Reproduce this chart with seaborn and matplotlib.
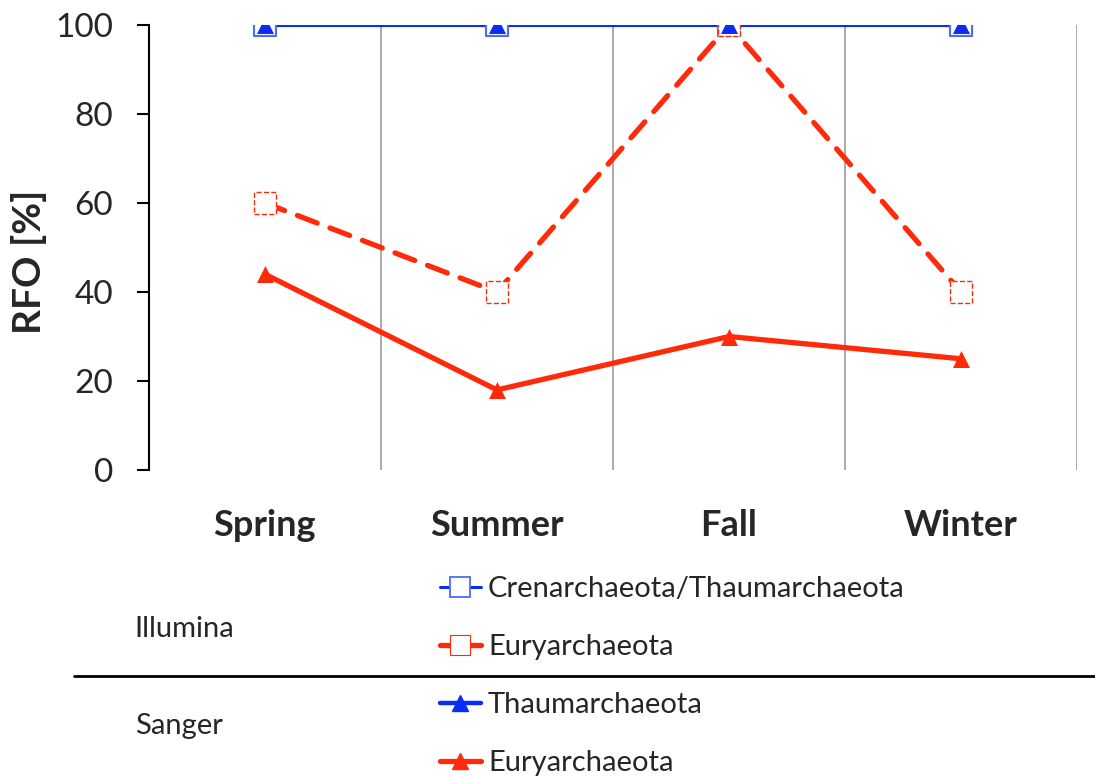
import numpy as np
import pandas as pd
import matplotlib
matplotlib.use("Agg")
import matplotlib.pyplot as plt
from matplotlib.lines import Line2D
import seaborn as sns


# ===============================
# DATA
# ===============================

seasons = ["Spring", "Summer", "Fall", "Winter"]

illumina_creno = [100, 100, 100, 100]
illumina_eury = [60, 40, 100, 40]
sanger_thaum = [100, 100, 100, 100]
sanger_eury = [44, 18, 30, 25]

yticks = [0, 20, 40, 60, 80, 100]

blue = "#0a2cf5"
light_blue = "#4a6cf8"
red = "#ff2a0a"


# ===============================
# FIGURE
# ===============================

sns.set_theme(style="white")
plt.rcParams['font.family'] = ['Lato', 'DejaVu Sans']

fig = plt.figure(figsize=(10.95, 7.76), dpi=100)
ax = fig.add_axes([0.136, 0.3943, 0.8476, 0.5735])

x = np.arange(len(seasons))

# lines
sns.lineplot(x=x, y=illumina_creno, ax=ax, color=blue, lw=2.2, zorder=2)
sns.lineplot(x=x, y=illumina_eury, ax=ax, color=red, lw=3.8, zorder=3,
             dashes=False, linestyle=(0, (4, 2.6)), dash_capstyle="round")
sns.lineplot(x=x, y=sanger_thaum, ax=ax, color=blue, lw=2.2, zorder=2)
sns.lineplot(x=x, y=sanger_eury, ax=ax, color=red, lw=3.8, zorder=3)

# markers
sns.scatterplot(x=x, y=illumina_creno, ax=ax, marker="s", s=250,
                facecolor="white", edgecolor=light_blue, linewidth=1.5, zorder=4)
sns.scatterplot(x=x, y=illumina_eury, ax=ax, marker="s", s=250,
                facecolor="white", edgecolor=red, linewidth=1.0,
                linestyle="--", zorder=4)
sns.scatterplot(x=x, y=sanger_thaum, ax=ax, marker="^", s=150,
                color=blue, edgecolor=blue, linewidth=0, zorder=5)
sns.scatterplot(x=x, y=sanger_eury, ax=ax, marker="^", s=150,
                color=red, edgecolor=red, linewidth=0, zorder=5)

ax.set_xlim(-0.5, 3.5)
ax.set_ylim(0, 100)
ax.set_yticks(yticks)
ax.set_xticks(x)
ax.set_xticklabels(seasons, fontsize=26, fontweight="bold")
ax.set_xticks(x + 0.5, minor=True)
ax.grid(False)
ax.grid(axis="x", which="minor", color="#aaaaaa", lw=1.4)
ax.tick_params(axis="y", which="major", left=True, length=9, width=1.5,
               labelsize=24, pad=17, color="black")
ax.tick_params(axis="x", which="both", bottom=False, pad=22)

for side in ["top", "right", "bottom"]:
    ax.spines[side].set_visible(False)
ax.spines["left"].set_color("black")
ax.spines["left"].set_linewidth(1.5)

ax.set_ylabel("RFO [%]", fontsize=28, fontweight="bold")
ax.yaxis.set_label_coords(-0.11, 0.467)


# ===============================
# LEGEND TABLE
# ===============================

handles = [
    Line2D([0], [0], color=blue, lw=2.2, marker="s", markersize=14,
           markerfacecolor="white", markeredgecolor=light_blue, markeredgewidth=1.3),
    Line2D([0], [0], color=red, lw=3.8, marker="s", markersize=14,
           markerfacecolor="white", markeredgecolor=red, markeredgewidth=0.8),
    Line2D([0], [0], color=blue, lw=3.2, marker="^", markersize=12,
           markerfacecolor=blue, markeredgecolor=blue),
    Line2D([0], [0], color=red, lw=3.8, marker="^", markersize=12,
           markerfacecolor=red, markeredgecolor=red),
]
labels = ["Crenarchaeota/Thaumarchaeota", "Euryarchaeota",
          "Thaumarchaeota", "Euryarchaeota"]

ax.legend(handles, labels, loc="upper left",
          bbox_to_anchor=(0.391, 0.273), bbox_transform=fig.transFigure,
          frameon=False, fontsize=21, handlelength=1.4, handletextpad=0.25,
          labelspacing=1.1, borderaxespad=0)

fig.text(0.123, 0.19, "Illumina", fontsize=21, va="center", ha="left")
fig.text(0.123, 0.065, "Sanger", fontsize=21, va="center", ha="left")
fig.add_artist(Line2D([0.068, 1.0], [0.129, 0.129], color="black", lw=2,
                      transform=fig.transFigure))

fig.savefig("out.png", dpi=100)
